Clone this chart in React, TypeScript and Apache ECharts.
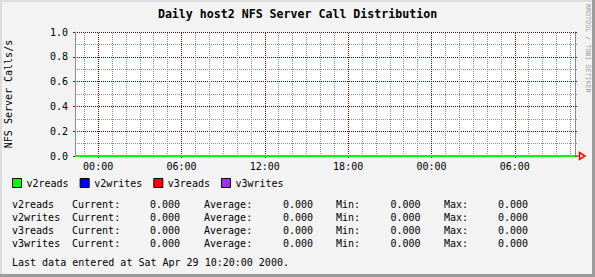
import React, { useEffect, useRef } from "react";
import * as echarts from "echarts";

const times = [
  "2000-04-27T22:20:00",
  "2000-04-28T04:20:00",
  "2000-04-28T10:20:00",
  "2000-04-28T16:20:00",
  "2000-04-28T22:20:00",
  "2000-04-29T04:20:00",
  "2000-04-29T10:20:00",
];
const v2reads = [0, 0, 0, 0, 0, 0, 0];
const v2writes = [0, 0, 0, 0, 0, 0, 0];
const v3reads = [0, 0, 0, 0, 0, 0, 0];
const v3writes = [0, 0, 0, 0, 0, 0, 0];

const xTickTimes = [
  "2000-04-28T00:00:00",
  "2000-04-28T06:00:00",
  "2000-04-28T12:00:00",
  "2000-04-28T18:00:00",
  "2000-04-29T00:00:00",
  "2000-04-29T06:00:00",
];

const seriesNames = ["v2reads", "v2writes", "v3reads", "v3writes"];
const seriesColors = ["#00ff00", "#0000ff", "#ff0000", "#a030f0"];
const currentVals = ["0.000", "0.000", "0.000", "0.000"];
const averageVals = ["0.000", "0.000", "0.000", "0.000"];
const minVals = ["0.000", "0.000", "0.000", "0.000"];
const maxVals = ["0.000", "0.000", "0.000", "0.000"];

const yTicks = [0, 0.2, 0.4, 0.6, 0.8, 1.0];

const MONO = "DejaVu Sans Mono";
const HOUR = 3600 * 1000;

function pad(n: number) {
  return n < 10 ? "0" + n : "" + n;
}

export default function App() {
  const ref = useRef<HTMLDivElement>(null);
  useEffect(() => {
    if (!ref.current) return;
    const chart = echarts.init(ref.current, undefined, { renderer: "svg" });
    const ts = times.map((t) => new Date(t).getTime());
    const tMin = ts[0];
    const tMax = ts[ts.length - 1];
    const majorTicks = xTickTimes.map((t) => new Date(t).getTime());
    const minorTicks: number[] = [];
    for (let t = Math.ceil(tMin / HOUR) * HOUR; t < tMax; t += HOUR) {
      if (majorTicks.indexOf(t) < 0) minorTicks.push(t);
    }
    const allData = [v2reads, v2writes, v3reads, v3writes];

    const font = `10px ${MONO}`;
    const statTexts: any[] = [];
    const cols = [
      { x: 12, get: (i: number) => seriesNames[i] },
      { x: 72, get: () => "Current:" },
      { x: 150, get: (i: number) => currentVals[i] },
      { x: 204, get: () => "Average:" },
      { x: 283, get: (i: number) => averageVals[i] },
      { x: 336, get: () => "Min:" },
      { x: 390.5, get: (i: number) => minVals[i] },
      { x: 444, get: () => "Max:" },
      { x: 498, get: (i: number) => maxVals[i] },
    ];
    seriesNames.forEach((_, i) => {
      cols.forEach((c) => {
        statTexts.push({
          type: "text",
          x: c.x,
          y: 204.3 + 13 * i,
          style: { text: c.get(i), font, fill: "#000", verticalAlign: "middle" },
        });
      });
    });

    const fmt = (v: number) => {
      const d = new Date(v);
      return pad(d.getHours()) + ":" + pad(d.getMinutes());
    };

    const gridMarkLine = (ticks: number[], color: string) => ({
      silent: true,
      symbol: ["none", "none"],
      label: { show: false },
      emphasis: { disabled: true },
      lineStyle: { color, type: [1, 1], width: 1 },
      data: ticks.map((t) => ({ xAxis: t })),
    });

    const option: any = {
      animation: false,
      backgroundColor: "#f3f3f3",
      textStyle: { fontFamily: MONO, color: "#000" },
      title: {
        text: "Daily host2 NFS Server Call Distribution",
        left: "center",
        top: 8,
        padding: 0,
        textStyle: { fontFamily: MONO, fontSize: 11.6, fontWeight: "bold", color: "#000" },
      },
      legend: {
        left: 12,
        top: 178,
        padding: 0,
        itemWidth: 9,
        itemHeight: 9,
        itemGap: 11,
        icon: "rect",
        data: seriesNames.map((n, i) => ({
          name: n,
          itemStyle: { color: seriesColors[i], borderColor: "#000", borderWidth: 1 },
        })),
        textStyle: { fontFamily: MONO, fontSize: 10, color: "#000", padding: [0, 0, 0, 0] },
        selectedMode: false,
      },
      grid: {
        left: 75,
        top: 32,
        width: 500,
        height: 124,
        show: true,
        backgroundColor: "#ffffff",
        borderWidth: 0,
        containLabel: false,
        outerBoundsMode: "none",
      },
      xAxis: {
        type: "value",
        min: tMin,
        max: tMax,
        axisLine: { show: false },
        axisTick: {
          show: true,
          length: 2,
          customValues: majorTicks,
          lineStyle: { color: "#c00000", width: 1 },
        },
        axisLabel: {
          customValues: majorTicks,
          formatter: (v: number) => fmt(v),
          fontFamily: MONO,
          fontSize: 10,
          color: "#000",
          margin: 5,
          hideOverlap: false,
        },
        splitLine: { show: false },
      },
      yAxis: [
        {
          type: "value",
          min: yTicks[0],
          max: yTicks[yTicks.length - 1],
          interval: 0.2,
          name: "NFS Server Calls/s",
          nameLocation: "middle",
          nameGap: 62,
          nameTextStyle: { fontFamily: MONO, fontSize: 10, color: "#000" },
          axisLine: { show: true, lineStyle: { color: "#8c8c8c", width: 1 } },
          axisTick: { show: true, length: 2, lineStyle: { color: "#c00000" } },
          minorTick: { show: false, splitNumber: 2 },
          axisLabel: {
            formatter: (v: number) => v.toFixed(1),
            fontFamily: MONO,
            fontSize: 10,
            color: "#000",
            margin: 7,
          },
          splitLine: { show: true, lineStyle: { color: "#800000", type: [1, 1], width: 1 } },
          minorSplitLine: { show: true, lineStyle: { color: "#8c8c8c", type: [1, 1], width: 1 } },
        },
        {
          type: "value",
          position: "right",
          min: yTicks[0],
          max: yTicks[yTicks.length - 1],
          interval: 0.2,
          axisLine: { show: true, lineStyle: { color: "#8c8c8c", width: 1 } },
          axisTick: { show: true, length: 2, lineStyle: { color: "#c00000" } },
          minorTick: { show: true, splitNumber: 2, length: 2, lineStyle: { color: "#8c8c8c" } },
          axisLabel: { show: false },
          splitLine: { show: false },
        },
      ],
      series: seriesNames.map((n, i) => {
        const s: any = {
          name: n,
          type: "line",
          xAxisIndex: 0,
          yAxisIndex: 0,
          data: ts.map((t, k) => [t, allData[i][k]]),
          showSymbol: false,
          symbol: "none",
          z: i === 0 ? 10 : 5 - i,
          color: seriesColors[i],
          lineStyle: { color: seriesColors[i], width: 2 },
          itemStyle: { color: seriesColors[i] },
        };
        if (i === 3) s.markLine = gridMarkLine(minorTicks, "#8c8c8c");
        if (i === 2) s.markLine = gridMarkLine(majorTicks, "#800000");
        return s;
      }),
      graphic: [
        { type: "rect", shape: { x: 0, y: 0, width: 595, height: 2 }, style: { fill: "#dcdcdc" } },
        { type: "rect", shape: { x: 0, y: 0, width: 2, height: 277 }, style: { fill: "#dcdcdc" } },
        { type: "rect", shape: { x: 592, y: 0, width: 3, height: 277 }, style: { fill: "#9c9c9c" } },
        { type: "rect", shape: { x: 0, y: 274, width: 595, height: 3 }, style: { fill: "#9c9c9c" } },
        {
          type: "line",
          shape: { x1: 575, y1: 156, x2: 579, y2: 156 },
          style: { stroke: "#ff0000", lineWidth: 1 },
        },
        {
          type: "polygon",
          shape: { points: [[579.5, 152.5], [585, 156], [579.5, 159.5]] },
          style: { stroke: "#ff0000", fill: "none", lineWidth: 1.5 },
        },
        {
          type: "text",
          x: 588,
          y: 4,
          rotation: -Math.PI / 2,
          style: {
            text: "RRDTOOL / TOBI OETIKER",
            font: `6.7px ${MONO}`,
            fill: "#9a9a9a",
            align: "left",
            verticalAlign: "middle",
          },
        },
        ...statTexts,
        {
          type: "text",
          x: 12,
          y: 262.7,
          style: {
            text: "Last data entered at Sat Apr 29 10:20:00 2000.",
            font,
            fill: "#000",
            verticalAlign: "middle",
          },
        },
      ],
    };
    chart.setOption(option);
    return () => chart.dispose();
  }, []);
  return (
    <div
      ref={ref}
      style={{ position: "fixed", left: 0, top: 0, width: 595, height: 277 }}
    />
  );
}
